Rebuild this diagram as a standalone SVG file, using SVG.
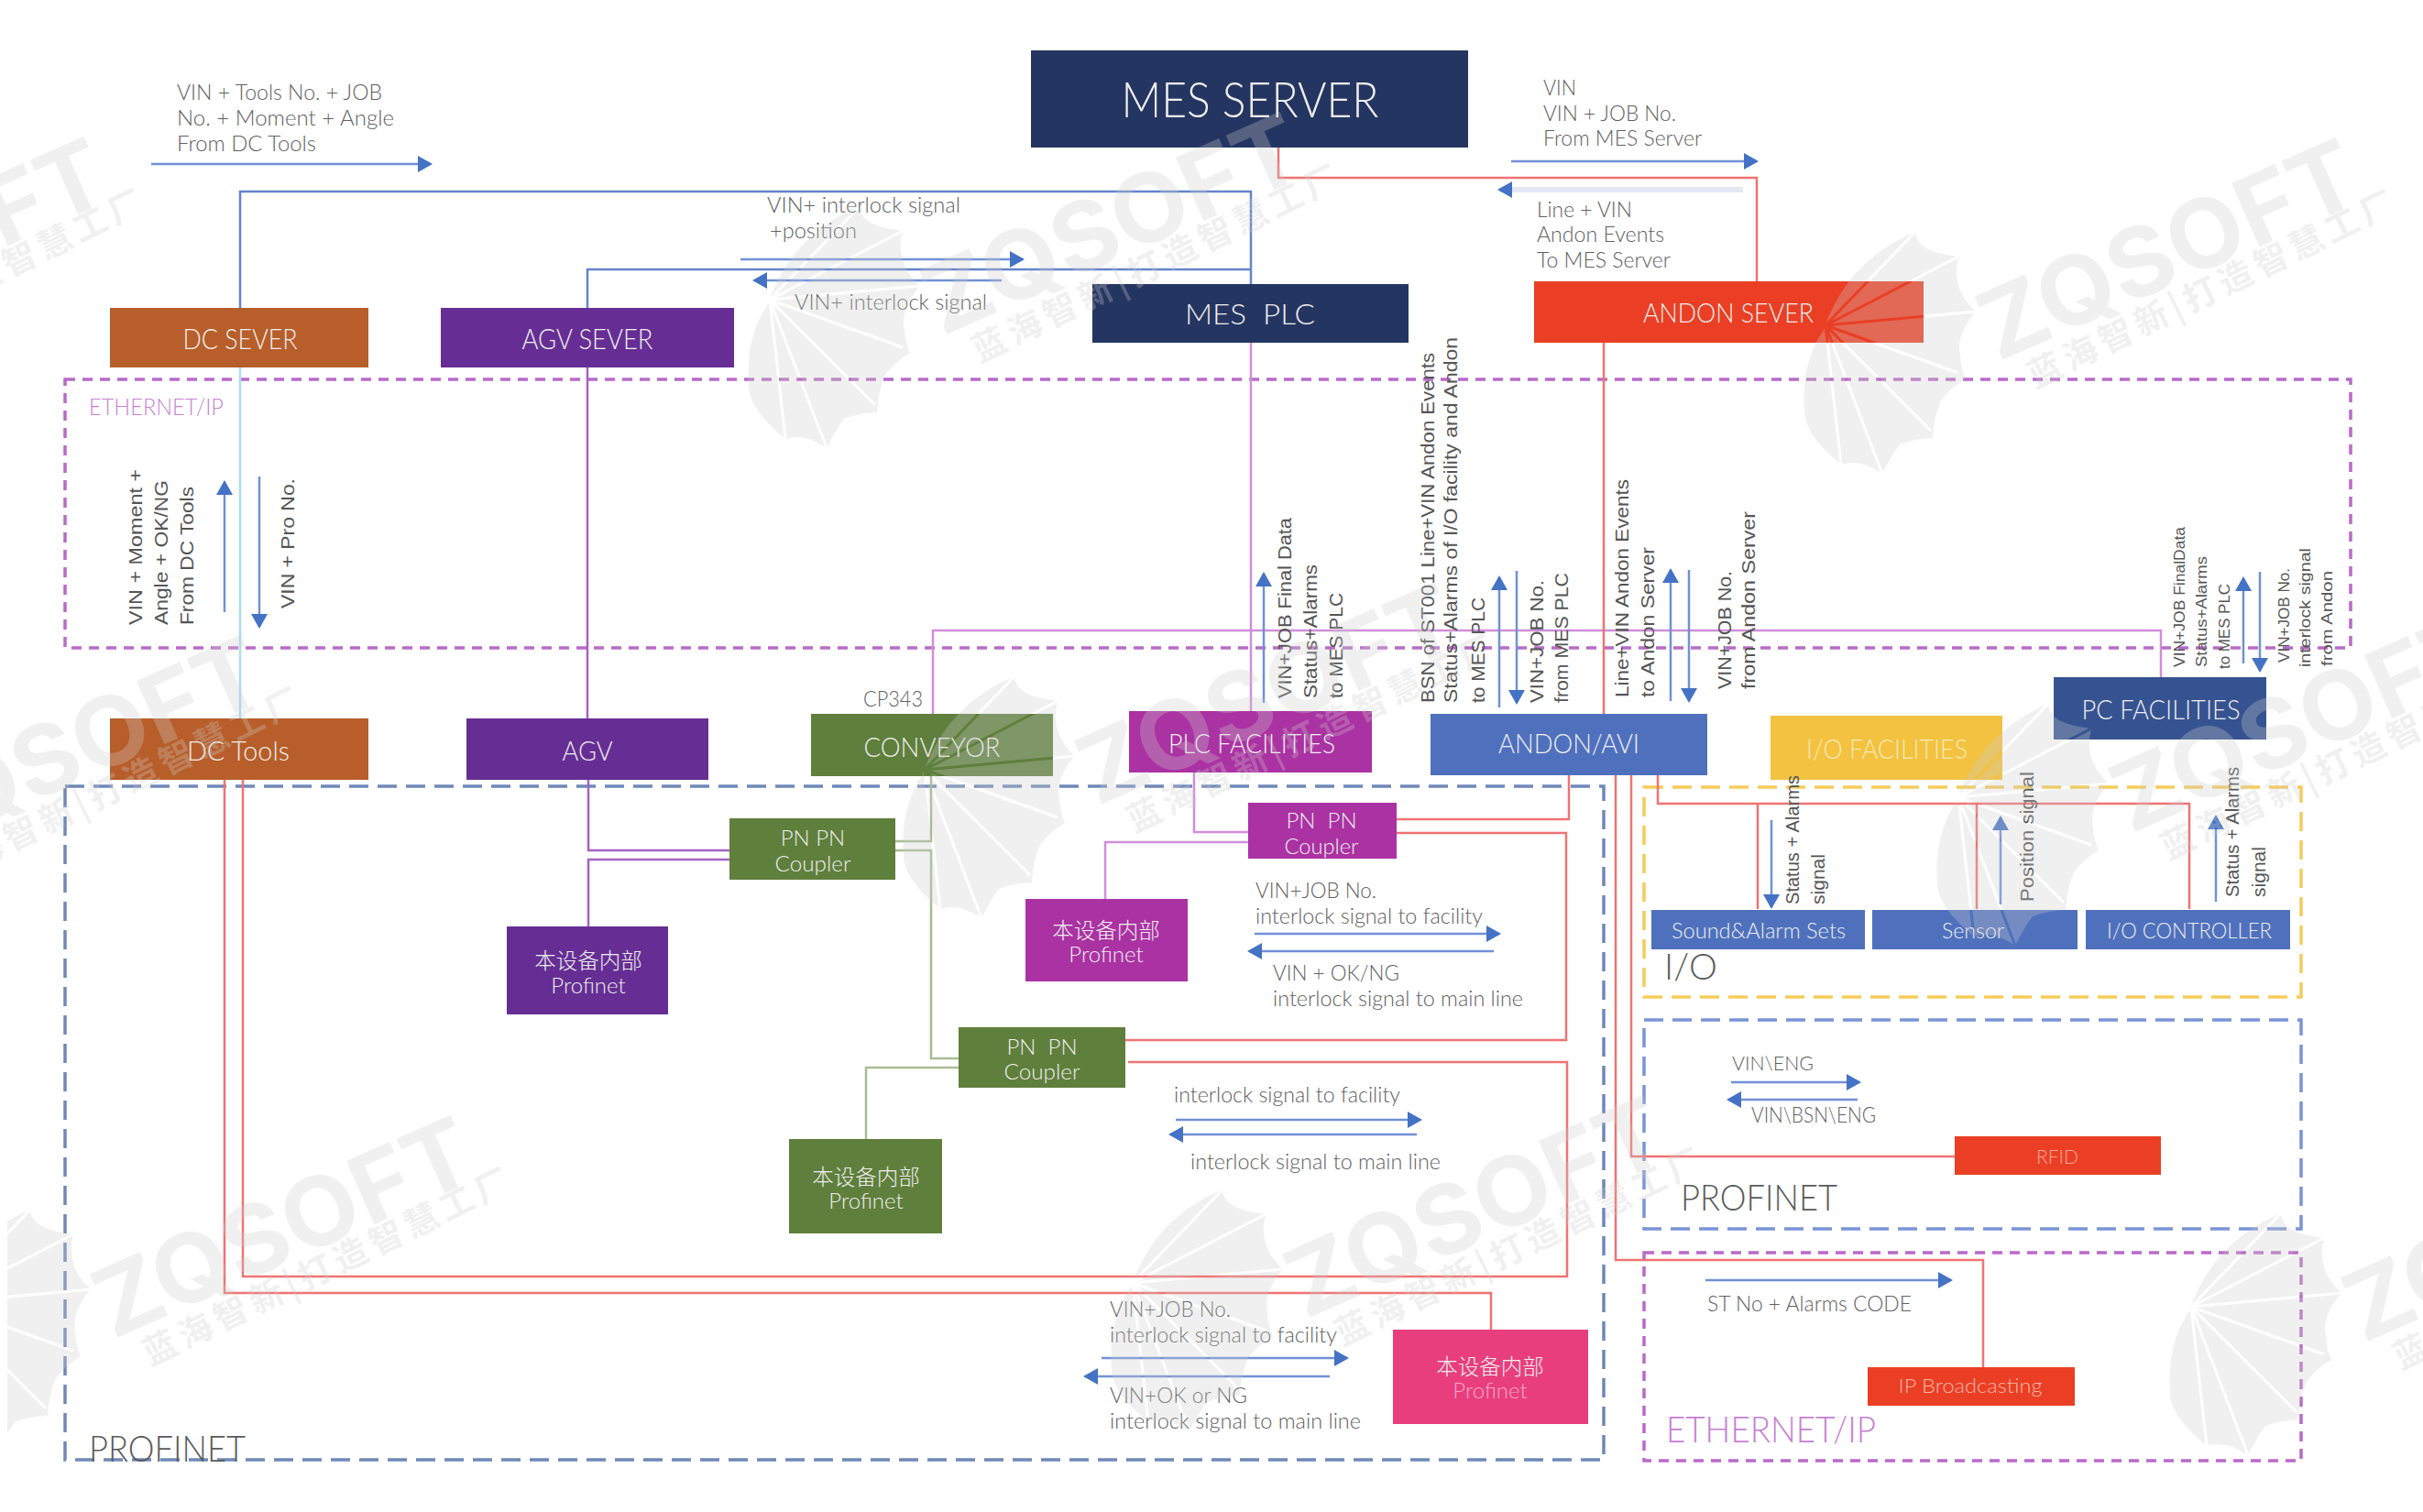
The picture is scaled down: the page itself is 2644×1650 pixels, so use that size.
<svg xmlns="http://www.w3.org/2000/svg" xmlns:xlink="http://www.w3.org/1999/xlink" width="2644" height="1650" viewBox="0 0 2644 1650">
<style>
text{font-family:"Lato","Liberation Sans","Noto Sans CJK SC",sans-serif;white-space:pre}
.n{fill:#eeeeee;text-anchor:middle;font-weight:300}
.t{fill:#606060;font-size:24px;font-weight:300}
.v{fill:#555555;font-family:"Liberation Sans",sans-serif;font-size:21px}
.vs{fill:#555555;font-family:"Liberation Sans",sans-serif;font-size:17px}
.c{fill:none;stroke-width:2.5}
.red{stroke:#ef7373}.blue{stroke:#6484cc}.pur{stroke:#a562c4}.lil{stroke:#cf8fd8}.grn{stroke:#a9bd94}.cy{stroke:#a8def2}
.ar{fill:none;stroke:#7191d6;stroke-width:2.5;marker-end:url(#h)}
.box{fill:none;stroke-width:3.5}
.wm{fill:#cdcdcd;opacity:.3}
</style>
<defs>
<marker id="h" markerUnits="userSpaceOnUse" markerWidth="16" markerHeight="18" refX="14" refY="9" orient="auto"><path d="M0,0L16,9L0,18z" fill="#4472c4"/></marker>
<mask id="ribs" maskUnits="userSpaceOnUse" x="-230" y="-170" width="230" height="310">
<rect x="-230" y="-170" width="230" height="310" fill="#fff"/>
<path d="M-188,-40L-90,-142M-188,-40L-43,-115M-188,-40L-24,-55M-188,-40L-43,12M-188,-40L-73,75M-188,-40L-126,122M-188,-40L-171,112" stroke="#000" stroke-width="3" fill="none"/>
</mask>
<g id="wm" class="wm">
<path mask="url(#ribs)" d="M-190,-35Q-165,-110-90,-142Q-90,-120-43,-115Q-52,-80-24,-55Q-46,-30-41,-8Q-40,8-35,18Q-52,28-62,42Q-70,60-71,83Q-92,84-107,90Q-118,105-126,122Q-150,105-171,112Q-210,80-211,55Q-215,0-190,-35Z"/>
<text transform="rotate(-23.8)" x="0" y="0" font-size="104" font-weight="700" textLength="440" lengthAdjust="spacingAndGlyphs" style="font-family:Inter,'Liberation Sans',sans-serif">ZQSOFT</text>
<text transform="rotate(-26) translate(24,44)" font-size="37" font-weight="700" textLength="440" style="font-family:'Noto Sans CJK SC',sans-serif">蓝海智新|打造智慧工厂</text>
</g>
</defs>
<rect width="2644" height="1650" fill="#fff"/>

<g id="frames">
<rect class="box" x="71" y="414" width="2494" height="293" stroke="#b96ac8" stroke-dasharray="11 8"/>
<rect class="box" x="71" y="858" width="1679" height="735" stroke="#6f88b8" stroke-dasharray="21 10"/>
<rect class="box" x="1794" y="859" width="717" height="229" stroke="#f6cc5a" stroke-dasharray="21 10"/>
<rect class="box" x="1794" y="1113" width="717" height="228" stroke="#7994d6" stroke-dasharray="21 10"/>
<rect class="box" x="1794" y="1367" width="717" height="227" stroke="#b96ac8" stroke-dasharray="11 8"/>
</g>

<g id="connectors">
<path class="c blue" d="M262,336V209H1365V310"/>
<path class="c blue" d="M641,336V294H1365"/>
<path class="c cy" d="M262,401V784"/>
<path class="c pur" d="M641,401V784"/>
<path class="c lil" d="M1365,374V776"/>
<path class="c lil" d="M1018,779V688H2358V739"/>
<path class="c red" d="M1395,161V194H1917V307"/>
<path class="c red" d="M1750,374V779"/>
<path class="c pur" d="M642,851V928H796"/>
<path class="c pur" d="M642,1011V938H796"/>
<path class="c grn" d="M1016,847V918H977"/>
<path class="c grn" d="M977,928H1016V1155H1046"/>
<path class="c grn" d="M1046,1165H945V1243"/>
<path class="c lil" d="M1303,843V908H1362"/>
<path class="c lil" d="M1362,919H1206V981"/>
<path class="c red" d="M1712,846V894H1524"/>
<path class="c red" d="M1524,909H1709V1135H1228"/>
<path class="c red" d="M1231,1159H1710V1393H265V851"/>
<path class="c red" d="M245,851V1411H1627V1451"/>
<path class="c red" d="M1809,846V877H2389V992"/>
<path class="c red" d="M1918,877V992"/>
<path class="c red" d="M2157,877V992"/>
<path class="c red" d="M1780,846V1262H2133"/>
<path class="c red" d="M1763,846V1375H2164V1492"/>
<path class="ar" d="M165,179H470"/>
<path class="ar" d="M808,283H1116"/>
<path class="ar" d="M1093,306H823"/>
<path class="ar" d="M1649,176H1917"/>
<path class="ar" style="stroke:#e4e7f6;stroke-width:6" d="M1902,207H1636"/>
<path class="ar" d="M245,668V526"/>
<path class="ar" d="M283,520V684"/>
<path class="ar" d="M1379,767V626"/>
<path class="ar" d="M1636,772V630"/>
<path class="ar" d="M1655,623V767"/>
<path class="ar" d="M1823,765V622"/>
<path class="ar" d="M1843,622V765"/>
<path class="ar" d="M2448,724V631"/>
<path class="ar" d="M2466,624V732"/>
<path class="ar" d="M1369,1019H1636"/>
<path class="ar" d="M1630,1038H1363"/>
<path class="ar" d="M1283,1222H1550"/>
<path class="ar" d="M1546,1238H1277"/>
<path class="ar" d="M1202,1482H1470"/>
<path class="ar" d="M1451,1502H1184"/>
<path class="ar" d="M1933,895V990"/>
<path class="ar" d="M2183,987V892"/>
<path class="ar" d="M2418,984V891"/>
<path class="ar" d="M1889,1181H2029"/>
<path class="ar" d="M2027,1200H1886"/>
<path class="ar" d="M1861,1397H2129"/>
</g>

<g id="mes-server"><rect x="1125" y="55" width="477" height="106" fill="#253561"/><text class="n" x="1364" y="128" font-size="53" textLength="281" lengthAdjust="spacingAndGlyphs">MES SERVER</text></g>
<g id="mes-plc"><rect x="1192" y="310" width="345" height="64" fill="#253561"/><text class="n" x="1364" y="354" font-size="31" textLength="142" lengthAdjust="spacingAndGlyphs">MES  PLC</text></g>
<g id="andon-sever"><rect x="1674" y="307" width="425" height="67" fill="#ea3f24"/><text class="n" x="1886" y="352" font-size="30" textLength="186" lengthAdjust="spacingAndGlyphs">ANDON SEVER</text></g>
<g id="dc-sever"><rect x="120" y="336" width="282" height="65" fill="#b85e2a"/><text class="n" x="262" y="381" font-size="32" textLength="125" lengthAdjust="spacingAndGlyphs">DC SEVER</text></g>
<g id="agv-sever"><rect x="481" y="336" width="320" height="65" fill="#662e94"/><text class="n" x="641" y="381" font-size="32" textLength="143" lengthAdjust="spacingAndGlyphs">AGV SEVER</text></g>
<g id="dc-tools"><rect x="120" y="784" width="282" height="67" fill="#b85e2a"/><text class="n" x="260" y="830" font-size="30" textLength="112" lengthAdjust="spacingAndGlyphs">DC Tools</text></g>
<g id="agv"><rect x="509" y="784" width="264" height="67" fill="#662e94"/><text class="n" x="641" y="830" font-size="30" textLength="55" lengthAdjust="spacingAndGlyphs">AGV</text></g>
<g id="conveyor"><rect x="885" y="779" width="264" height="68" fill="#5f7f3c"/><text class="n" x="1017" y="826" font-size="30" textLength="149" lengthAdjust="spacingAndGlyphs">CONVEYOR</text></g>
<g id="plc-facilities"><rect x="1232" y="776" width="265" height="67" fill="#ab32a3"/><text class="n" x="1366" y="822" font-size="30" textLength="182" lengthAdjust="spacingAndGlyphs">PLC FACILITIES</text></g>
<g id="andon-avi"><rect x="1561" y="779" width="302" height="67" fill="#4f71bd"/><text class="n" x="1712" y="822" font-size="29" textLength="154" lengthAdjust="spacingAndGlyphs">ANDON/AVI</text></g>
<g id="io-facilities"><rect x="1932" y="781" width="253" height="70" fill="#f2c240"/><text class="n" x="2059" y="828" font-size="30" textLength="176" lengthAdjust="spacingAndGlyphs" style="fill:#fbe9b4">I/O FACILITIES</text></g>
<g id="pc-facilities"><rect x="2241" y="739" width="232" height="68" fill="#365391"/><text class="n" x="2358" y="785" font-size="30" textLength="173" lengthAdjust="spacingAndGlyphs">PC FACILITIES</text></g>

<g id="coupler-green-1"><rect x="796" y="893" width="181" height="67" fill="#5f7f3c"/><text class="n" x="887" y="923" font-size="24">PN PN</text><text class="n" x="887" y="951" font-size="24" textLength="83" lengthAdjust="spacingAndGlyphs">Coupler</text></g>
<g id="coupler-purple"><rect x="1362" y="876" width="162" height="61" fill="#ab32a3"/><text class="n" x="1442" y="904" font-size="24">PN  PN</text><text class="n" x="1442" y="932" font-size="24" textLength="81" lengthAdjust="spacingAndGlyphs">Coupler</text></g>
<g id="coupler-green-2"><rect x="1046" y="1121" width="182" height="66" fill="#5f7f3c"/><text class="n" x="1137" y="1151" font-size="24">PN  PN</text><text class="n" x="1137" y="1178" font-size="24" textLength="83" lengthAdjust="spacingAndGlyphs">Coupler</text></g>
<g id="inner-purple"><rect x="553" y="1011" width="176" height="96" fill="#662e94"/><text class="n" x="642" y="1057" font-size="23.5">本设备内部</text><text class="n" x="642" y="1084" font-size="24">Profinet</text></g>
<g id="inner-magenta"><rect x="1119" y="981" width="177" height="90" fill="#ab32a3"/><text class="n" x="1207" y="1024" font-size="23.5">本设备内部</text><text class="n" x="1207" y="1050" font-size="24">Profinet</text></g>
<g id="inner-green"><rect x="861" y="1243" width="167" height="103" fill="#5f7f3c"/><text class="n" x="945" y="1293" font-size="23.5">本设备内部</text><text class="n" x="945" y="1319" font-size="24">Profinet</text></g>
<g id="inner-pink"><rect x="1520" y="1451" width="213" height="103" fill="#e83e7d"/><text class="n" x="1626" y="1500" font-size="23.5">本设备内部</text><text class="n" x="1626" y="1526" font-size="24" style="fill:#f6a8c6">Profinet</text></g>
<g id="sound-alarm"><rect x="1802" y="993" width="233" height="43" fill="#4f71bd"/><text class="n" x="1919" y="1024" font-size="23" textLength="190" lengthAdjust="spacingAndGlyphs">Sound&amp;Alarm Sets</text></g>
<g id="sensor"><rect x="2043" y="993" width="224" height="43" fill="#4f71bd"/><text class="n" x="2153" y="1024" font-size="23" textLength="68" lengthAdjust="spacingAndGlyphs">Sensor</text></g>
<g id="io-controller"><rect x="2276" y="993" width="223" height="43" fill="#4f71bd"/><text class="n" x="2389" y="1024" font-size="23" textLength="180" lengthAdjust="spacingAndGlyphs">I/O CONTROLLER</text></g>
<g id="rfid"><rect x="2133" y="1240" width="225" height="42" fill="#ea3f24"/><text class="n" x="2245" y="1270" font-size="22" textLength="46" lengthAdjust="spacingAndGlyphs" style="fill:#f6a897">RFID</text></g>
<g id="ip-broadcasting"><rect x="2038" y="1492" width="226" height="42" fill="#ea3f24"/><text class="n" x="2150" y="1520" font-size="22" textLength="157" lengthAdjust="spacingAndGlyphs" style="fill:#f6b5a8">IP Broadcasting</text></g>

<g id="labels">
<text class="t" x="193" y="109" textLength="224" lengthAdjust="spacingAndGlyphs">VIN + Tools No. + JOB</text>
<text class="t" x="193" y="137" textLength="237" lengthAdjust="spacingAndGlyphs">No. + Moment + Angle</text>
<text class="t" x="193" y="165" textLength="152" lengthAdjust="spacingAndGlyphs">From DC Tools</text>
<text class="t" x="837" y="232" textLength="211" lengthAdjust="spacingAndGlyphs">VIN+ interlock signal</text>
<text class="t" x="840" y="260" textLength="95" lengthAdjust="spacingAndGlyphs">+position</text>
<text class="t" x="867" y="338" textLength="210" lengthAdjust="spacingAndGlyphs">VIN+ interlock signal</text>
<text class="t" x="1684" y="104" textLength="36" lengthAdjust="spacingAndGlyphs">VIN</text>
<text class="t" x="1684" y="132" textLength="145" lengthAdjust="spacingAndGlyphs">VIN + JOB No.</text>
<text class="t" x="1684" y="159" textLength="173" lengthAdjust="spacingAndGlyphs">From MES Server</text>
<text class="t" x="1677" y="237" textLength="104" lengthAdjust="spacingAndGlyphs">Line + VIN</text>
<text class="t" x="1677" y="264" textLength="139" lengthAdjust="spacingAndGlyphs">Andon Events</text>
<text class="t" x="1677" y="292" textLength="146" lengthAdjust="spacingAndGlyphs">To MES Server</text>
<text class="t" x="942" y="771" textLength="65" lengthAdjust="spacingAndGlyphs">CP343</text>
<text x="97" y="453" font-size="25" fill="#c77fd0" font-weight="300" textLength="147" lengthAdjust="spacingAndGlyphs">ETHERNET/IP</text>
<text class="t" x="1370" y="980" textLength="132" lengthAdjust="spacingAndGlyphs">VIN+JOB No.</text>
<text class="t" x="1370" y="1008" textLength="248" lengthAdjust="spacingAndGlyphs">interlock signal to facility</text>
<text class="t" x="1389" y="1070" textLength="138" lengthAdjust="spacingAndGlyphs">VIN + OK/NG</text>
<text class="t" x="1389" y="1098" textLength="273" lengthAdjust="spacingAndGlyphs">interlock signal to main line</text>
<text class="t" x="1281" y="1203" textLength="247" lengthAdjust="spacingAndGlyphs">interlock signal to facility</text>
<text class="t" x="1299" y="1276" textLength="273" lengthAdjust="spacingAndGlyphs">interlock signal to main line</text>
<text class="t" x="1211" y="1437" textLength="132" lengthAdjust="spacingAndGlyphs">VIN+JOB No.</text>
<text class="t" x="1211" y="1465" textLength="248" lengthAdjust="spacingAndGlyphs">interlock signal to facility</text>
<text class="t" x="1211" y="1531" textLength="150" lengthAdjust="spacingAndGlyphs">VIN+OK or NG</text>
<text class="t" x="1211" y="1559" textLength="274" lengthAdjust="spacingAndGlyphs">interlock signal to main line</text>
<text x="97" y="1595" font-size="39" fill="#5a5a5a" font-weight="300" textLength="171" lengthAdjust="spacingAndGlyphs">PROFINET</text>
<text x="1816" y="1069" font-size="39" fill="#5a5a5a" font-weight="300">I/O</text>
<text x="1834" y="1321" font-size="39" fill="#5a5a5a" font-weight="300" textLength="171" lengthAdjust="spacingAndGlyphs">PROFINET</text>
<text x="1818" y="1574" font-size="39" fill="#c67fd2" font-weight="300" textLength="229" lengthAdjust="spacingAndGlyphs">ETHERNET/IP</text>
<text class="t" x="1890" y="1168" textLength="89" lengthAdjust="spacingAndGlyphs" style="font-size:22px">VIN\ENG</text>
<text class="t" x="1911" y="1225" textLength="136" lengthAdjust="spacingAndGlyphs">VIN\BSN\ENG</text>
<text class="t" x="1863" y="1431" textLength="223" lengthAdjust="spacingAndGlyphs">ST No + Alarms CODE</text>

<text class="v" transform="translate(155,682) rotate(-90)" textLength="170" lengthAdjust="spacingAndGlyphs">VIN + Moment +</text>
<text class="v" transform="translate(183,682) rotate(-90)" textLength="158" lengthAdjust="spacingAndGlyphs">Angle + OK/NG</text>
<text class="v" transform="translate(211,682) rotate(-90)" textLength="151" lengthAdjust="spacingAndGlyphs">From DC Tools</text>
<text class="v" transform="translate(321,664) rotate(-90)" textLength="142" lengthAdjust="spacingAndGlyphs">VIN + Pro No.</text>
<text class="v" transform="translate(1409,762) rotate(-90)" textLength="197" lengthAdjust="spacingAndGlyphs">VIN+JOB Final Data</text>
<text class="v" transform="translate(1437,762) rotate(-90)" textLength="146" lengthAdjust="spacingAndGlyphs">Status+Alarms</text>
<text class="v" transform="translate(1465,762) rotate(-90)" textLength="115" lengthAdjust="spacingAndGlyphs">to MES PLC</text>
<text class="v" transform="translate(1565,767) rotate(-90)" textLength="382" lengthAdjust="spacingAndGlyphs">BSN of ST001 Line+VIN Andon Events</text>
<text class="v" transform="translate(1590,767) rotate(-90)" textLength="399" lengthAdjust="spacingAndGlyphs">Status+Alarms of I/O facility and Andon</text>
<text class="v" transform="translate(1620,767) rotate(-90)" textLength="115" lengthAdjust="spacingAndGlyphs">to MES PLC</text>
<text class="v" transform="translate(1684,767) rotate(-90)" textLength="134" lengthAdjust="spacingAndGlyphs">VIN+JOB No.</text>
<text class="v" transform="translate(1711,767) rotate(-90)" textLength="142" lengthAdjust="spacingAndGlyphs">from MES PLC</text>
<text class="v" transform="translate(1777,761) rotate(-90)" textLength="238" lengthAdjust="spacingAndGlyphs">Line+VIN Andon Events</text>
<text class="v" transform="translate(1805,761) rotate(-90)" textLength="164" lengthAdjust="spacingAndGlyphs">to Andon Server</text>
<text class="v" transform="translate(1889,752) rotate(-90)" textLength="129" lengthAdjust="spacingAndGlyphs">VIN+JOB No.</text>
<text class="v" transform="translate(1915,752) rotate(-90)" textLength="194" lengthAdjust="spacingAndGlyphs">from Andon Server</text>
<text class="vs" transform="translate(2384,728) rotate(-90)" textLength="153" lengthAdjust="spacingAndGlyphs">VIN+JOB FinalData</text>
<text class="vs" transform="translate(2408,728) rotate(-90)" textLength="121" lengthAdjust="spacingAndGlyphs">Status+Alarms</text>
<text class="vs" transform="translate(2433,730) rotate(-90)" textLength="93" lengthAdjust="spacingAndGlyphs">to MES PLC</text>
<text class="vs" transform="translate(2498,723) rotate(-90)" textLength="103" lengthAdjust="spacingAndGlyphs">VIN+JOB No.</text>
<text class="vs" transform="translate(2521,728) rotate(-90)" textLength="130" lengthAdjust="spacingAndGlyphs">interlock signal</text>
<text class="vs" transform="translate(2545,727) rotate(-90)" textLength="104" lengthAdjust="spacingAndGlyphs">from Andon</text>
<text class="v" transform="translate(1963,987) rotate(-90)" textLength="141" lengthAdjust="spacingAndGlyphs">Status + Alarms</text>
<text class="v" transform="translate(1991,987) rotate(-90)" textLength="55" lengthAdjust="spacingAndGlyphs">signal</text>
<text class="v" transform="translate(2219,984) rotate(-90)" textLength="142" lengthAdjust="spacingAndGlyphs">Position signal</text>
<text class="v" transform="translate(2443,979) rotate(-90)" textLength="142" lengthAdjust="spacingAndGlyphs">Status + Alarms</text>
<text class="v" transform="translate(2472,979) rotate(-90)" textLength="55" lengthAdjust="spacingAndGlyphs">signal</text>
</g>

<g id="watermarks">
<use xlink:href="#wm" href="#wm" x="-277" y="394"/>
<use xlink:href="#wm" href="#wm" x="1028" y="367"/>
<use xlink:href="#wm" href="#wm" x="2180" y="395"/>
<use xlink:href="#wm" href="#wm" x="-106" y="938"/>
<use xlink:href="#wm" href="#wm" x="1197" y="880"/>
<use xlink:href="#wm" href="#wm" x="2325" y="910"/>
<use xlink:href="#wm" href="#wm" x="123" y="1462"/>
<use xlink:href="#wm" href="#wm" x="1424" y="1440"/>
<use xlink:href="#wm" href="#wm" x="2579" y="1466"/>
</g>
<rect x="0" y="1300" width="8" height="290" fill="#fff"/>
</svg>
